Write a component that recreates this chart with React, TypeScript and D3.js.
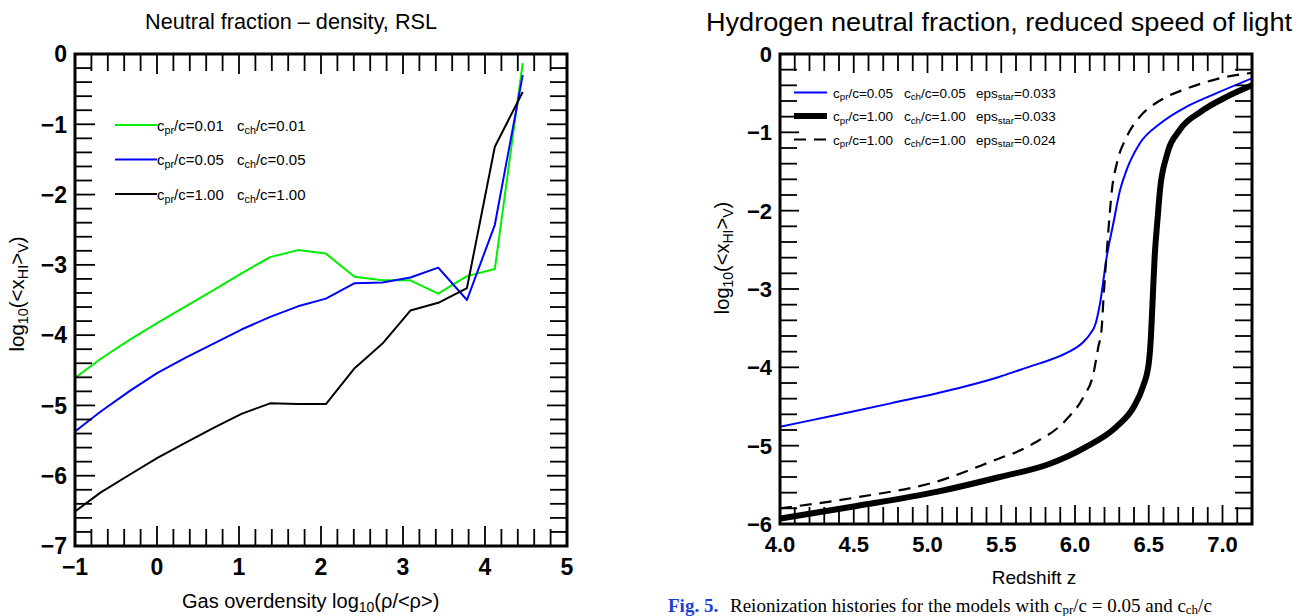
import React from 'react';
import * as d3 from 'd3';

// ---------- Left panel data: neutral fraction vs density ----------
const densX = [-1, -0.69, -0.34, 0, 0.35, 0.69, 1.03, 1.38, 1.72, 2.06, 2.41, 2.75, 3.09, 3.43, 3.78, 4.12, 4.46];
const greenY = [-4.61, -4.34, -4.07, -3.83, -3.59, -3.36, -3.12, -2.89, -2.79, -2.84, -3.17, -3.22, -3.22, -3.41, -3.16, -3.06, -0.13];
const blueY = [-5.37, -5.09, -4.80, -4.54, -4.32, -4.12, -3.92, -3.74, -3.59, -3.48, -3.26, -3.25, -3.18, -3.04, -3.50, -2.43, -0.30];
const blackY = [-6.51, -6.24, -5.99, -5.75, -5.53, -5.32, -5.12, -4.97, -4.98, -4.98, -4.47, -4.12, -3.65, -3.54, -3.33, -1.32, -0.54];
const leftSeries = [
  { pr: '0.01', ch: '0.01', color: '#00ee00', y: greenY },
  { pr: '0.05', ch: '0.05', color: '#0000ff', y: blueY },
  { pr: '1.00', ch: '1.00', color: '#000000', y: blackY },
];
const leftXTicks = [-1, 0, 1, 2, 3, 4, 5];
const leftYTicks = [-7, -6, -5, -4, -3, -2, -1, 0];

// ---------- Right panel data: neutral fraction vs redshift ----------
const blueZ = [4.0, 4.35, 4.75, 5.2, 5.49, 5.63, 5.76, 5.94, 6.06, 6.10, 6.14, 6.17, 6.215, 6.26, 6.305, 6.35, 6.44, 6.58, 6.76, 6.96, 7.2];
const blueX = [-4.76, -4.62, -4.46, -4.27, -4.12, -4.03, -3.95, -3.82, -3.67, -3.58, -3.44, -3.18, -2.59, -2.16, -1.74, -1.48, -1.14, -0.885, -0.67, -0.50, -0.31];
const dashZ = [4.0, 4.52, 5.06, 5.49, 5.63, 5.72, 5.94, 6.06, 6.125, 6.158, 6.18, 6.195, 6.215, 6.235, 6.25, 6.283, 6.35, 6.44, 6.58, 6.76, 6.96, 7.2];
const dashX = [-5.80, -5.66, -5.46, -5.16, -5.06, -4.97, -4.67, -4.37, -4.08, -3.74, -3.52, -3.06, -2.54, -2.05, -1.74, -1.40, -1.06, -0.80, -0.59, -0.44, -0.32, -0.24];
const thickZ = [4.0, 4.52, 5.06, 5.49, 5.83, 6.06, 6.28, 6.40, 6.46, 6.50, 6.515, 6.525, 6.54, 6.56, 6.576, 6.62, 6.71, 6.85, 7.03, 7.2];
const thickX = [-5.93, -5.77, -5.59, -5.40, -5.23, -5.03, -4.76, -4.50, -4.25, -3.95, -3.6, -3.2, -2.59, -2.1, -1.74, -1.31, -0.97, -0.74, -0.545, -0.40];
const rightSeries = [
  { pr: '0.05', ch: '0.05', eps: '0.033', color: '#0000ff', width: 2, dash: '', z: blueZ, x: blueX },
  { pr: '1.00', ch: '1.00', eps: '0.033', color: '#000000', width: 6, dash: '', z: thickZ, x: thickX },
  { pr: '1.00', ch: '1.00', eps: '0.024', color: '#000000', width: 2.2, dash: '12 8', z: dashZ, x: dashX },
];
const rightXTicks = [4.0, 4.5, 5.0, 5.5, 6.0, 6.5, 7.0];
const rightYTicks = [-6, -5, -4, -3, -2, -1, 0];

const FONT = '"Liberation Sans", Arial, Helvetica, sans-serif';
const minus = (s: string) => s.replace('-', '\u2212');

function Ticks({ x, y, xMinor, yMinor, xMajor, yMajor, majLen = 20, minLen = 17 }: any) {
  const [x0, x1] = x.range();
  const [y0, y1] = y.range(); // y0 bottom, y1 top
  const out: any[] = [];
  const isMajor = (v: number, arr: number[]) => arr.some((m) => Math.abs(m - v) < 1e-6);
  xMinor.forEach((v: number, i: number) => {
    const px = x(v);
    if (Math.abs(px - x0) < 1 || Math.abs(px - x1) < 1) return;
    const L = isMajor(v, xMajor) ? majLen : minLen;
    out.push(<line key={'xb' + i} x1={px} x2={px} y1={y0} y2={y0 - L} />);
    out.push(<line key={'xt' + i} x1={px} x2={px} y1={y1} y2={y1 + L} />);
  });
  yMinor.forEach((v: number, i: number) => {
    const py = y(v);
    if (Math.abs(py - y0) < 1 || Math.abs(py - y1) < 1) return;
    const L = isMajor(v, yMajor) ? majLen : minLen;
    out.push(<line key={'yl' + i} x1={x0} x2={x0 + L} y1={py} y2={py} />);
    out.push(<line key={'yr' + i} x1={x1} x2={x1 - L} y1={py} y2={py} />);
  });
  return <g stroke="#000" strokeWidth={1.8}>{out}</g>;
}

function YTitle({ x, y, size }: { x: number; y: number; size: number }) {
  return (
    <text transform={`translate(${x},${y}) rotate(-90)`} textAnchor="middle" fontSize={size} fontFamily={FONT}>
      log<tspan fontSize={size * 0.7} dy={size * 0.2}>10</tspan>
      <tspan dy={-size * 0.2}>(&lt;x</tspan>
      <tspan fontSize={size * 0.7} dy={size * 0.2}>HI</tspan>
      <tspan dy={-size * 0.2}>&gt;</tspan>
      <tspan fontSize={size * 0.7} dy={size * 0.2}>V</tspan>
      <tspan dy={-size * 0.2}>)</tspan>
    </text>
  );
}

export default function App() {
  // Left panel
  const lx = d3.scaleLinear().domain([-1, 5]).range([75, 567]);
  const ly = d3.scaleLinear().domain([-7, 0]).range([546, 54]);
  const lline = d3.line<number>().x((_, i) => lx(densX[i])).y((d) => ly(d));
  const lxMinor = d3.range(-1, 5.0001, 0.2).map((v) => +v.toFixed(2));
  const lyMinor = d3.range(-7, 0.0001, 0.2).map((v) => +v.toFixed(2));

  // Right panel
  const rx = d3.scaleLinear().domain([4.0, 7.2]).range([780, 1252]);
  const ry = d3.scaleLinear().domain([-6, 0]).range([524, 54]);
  const rxMinor = d3.range(4.0, 7.2001, 0.1).map((v) => +v.toFixed(2));
  const ryMinor = d3.range(-6, 0.0001, 0.2).map((v) => +v.toFixed(2));

  const subS = 0.72;

  return (
    <svg width={1312} height={616} style={{ position: 'absolute', left: 0, top: 0, background: '#fff' }} fontFamily={FONT}>
      <defs>
        <clipPath id="clipL"><rect x={75} y={54} width={492} height={492} /></clipPath>
        <clipPath id="clipR"><rect x={780} y={54} width={472} height={470} /></clipPath>
      </defs>
      <rect x={0} y={0} width={1312} height={616} fill="#fff" />

      {/* ================= LEFT PANEL ================= */}
      <text x={291} y={29} textAnchor="middle" fontSize={22} textLength={292} lengthAdjust="spacingAndGlyphs">
        Neutral fraction – density, RSL
      </text>
      <g clipPath="url(#clipL)" fill="none" strokeWidth={2} strokeLinejoin="round">
        {leftSeries.map((s) => (
          <path key={s.color} d={lline(s.y) || ''} stroke={s.color} />
        ))}
      </g>
      <Ticks x={lx} y={ly} xMinor={lxMinor} yMinor={lyMinor} xMajor={leftXTicks} yMajor={leftYTicks} />
      <rect x={75} y={54} width={492} height={492} fill="none" stroke="#000" strokeWidth={3} />
      {leftYTicks.map((t) => (
        <text key={t} x={67} y={ly(t)} dy="0.36em" textAnchor="end" fontSize={23} fontWeight="bold">
          {minus(String(t))}
        </text>
      ))}
      {leftXTicks.map((t) => (
        <text key={t} x={lx(t)} y={575} textAnchor="middle" fontSize={23} fontWeight="bold">
          {minus(String(t))}
        </text>
      ))}
      <YTitle x={24} y={294} size={20.5} />
      <text x={182} y={608} fontSize={20}>
        Gas overdensity log<tspan fontSize={20 * 0.7} dy={4}>10</tspan>
        <tspan dy={-4}>(ρ/&lt;ρ&gt;)</tspan>
      </text>
      {leftSeries.map((s, i) => {
        const yy = 125 + i * 34.5;
        return (
          <g key={'lg' + i}>
            <line x1={115} x2={157} y1={yy} y2={yy} stroke={s.color} strokeWidth={2} />
            <text x={157} y={yy + 5.5} fontSize={15}>
              c<tspan fontSize={15 * subS} dy={3}>pr</tspan>
              <tspan dy={-3}>/c={s.pr}</tspan>
              <tspan x={237}>c</tspan>
              <tspan fontSize={15 * subS} dy={3}>ch</tspan>
              <tspan dy={-3}>/c={s.ch}</tspan>
            </text>
          </g>
        );
      })}

      {/* ================= RIGHT PANEL ================= */}
      <text x={999} y={31} textAnchor="middle" fontSize={25} textLength={586} lengthAdjust="spacingAndGlyphs">
        Hydrogen neutral fraction, reduced speed of light
      </text>
      <g clipPath="url(#clipR)" fill="none" strokeLinejoin="round">
        {rightSeries.map((s, k) => {
          const gen = d3
            .line<number>()
            .x((_, i) => rx(s.z[i]))
            .y((d) => ry(d))
            .curve(d3.curveMonotoneX);
          return (
            <path key={'rs' + k} d={gen(s.x) || ''} stroke={s.color} strokeWidth={s.width} strokeDasharray={s.dash || undefined} />
          );
        })}
      </g>
      <Ticks x={rx} y={ry} xMinor={rxMinor} yMinor={ryMinor} xMajor={rightXTicks} yMajor={rightYTicks} majLen={19} minLen={17} />
      <rect x={780} y={54} width={472} height={470} fill="none" stroke="#000" strokeWidth={3} />
      {rightYTicks.map((t) => (
        <text key={t} x={772} y={ry(t)} dy="0.36em" textAnchor="end" fontSize={22} fontWeight="bold">
          {minus(String(t))}
        </text>
      ))}
      {rightXTicks.map((t) => (
        <text key={t} x={rx(t)} y={552} textAnchor="middle" fontSize={22} fontWeight="bold">
          {t.toFixed(1)}
        </text>
      ))}
      <YTitle x={729} y={258} size={20} />
      <text x={1034} y={584} textAnchor="middle" fontSize={19}>Redshift z</text>
      {rightSeries.map((s, i) => {
        const yy = 92.5 + i * 23.5;
        const fs = 13.5;
        return (
          <g key={'rg' + i}>
            <line x1={794} x2={827} y1={yy} y2={yy} stroke={s.color} strokeWidth={s.width} strokeDasharray={s.dash || undefined} />
            <text x={833} y={yy + 5} fontSize={fs}>
              c<tspan fontSize={fs * subS} dy={2.5}>pr</tspan>
              <tspan dy={-2.5}>/c={s.pr}</tspan>
              <tspan x={904}>c</tspan>
              <tspan fontSize={fs * subS} dy={2.5}>ch</tspan>
              <tspan dy={-2.5}>/c={s.ch}</tspan>
              <tspan x={976}>eps</tspan>
              <tspan fontSize={fs * subS} dy={2.5}>star</tspan>
              <tspan dy={-2.5}>={s.eps}</tspan>
            </text>
          </g>
        );
      })}

      {/* caption fragment at the bottom edge */}
      <text x={668} y={612} fontSize={19} fontFamily='"Liberation Serif", "Times New Roman", serif'>
        <tspan fill="#1a3fd6" fontWeight="bold">Fig. 5.</tspan>
        <tspan x={730}>Reionization histories for the models with c</tspan>
        <tspan fontSize={13} dy={2}>pr</tspan>
        <tspan dy={-2}>/c = 0.05 and c</tspan>
        <tspan fontSize={13} dy={2}>ch</tspan>
        <tspan dy={-2}>/c</tspan>
      </text>
    </svg>
  );
}
